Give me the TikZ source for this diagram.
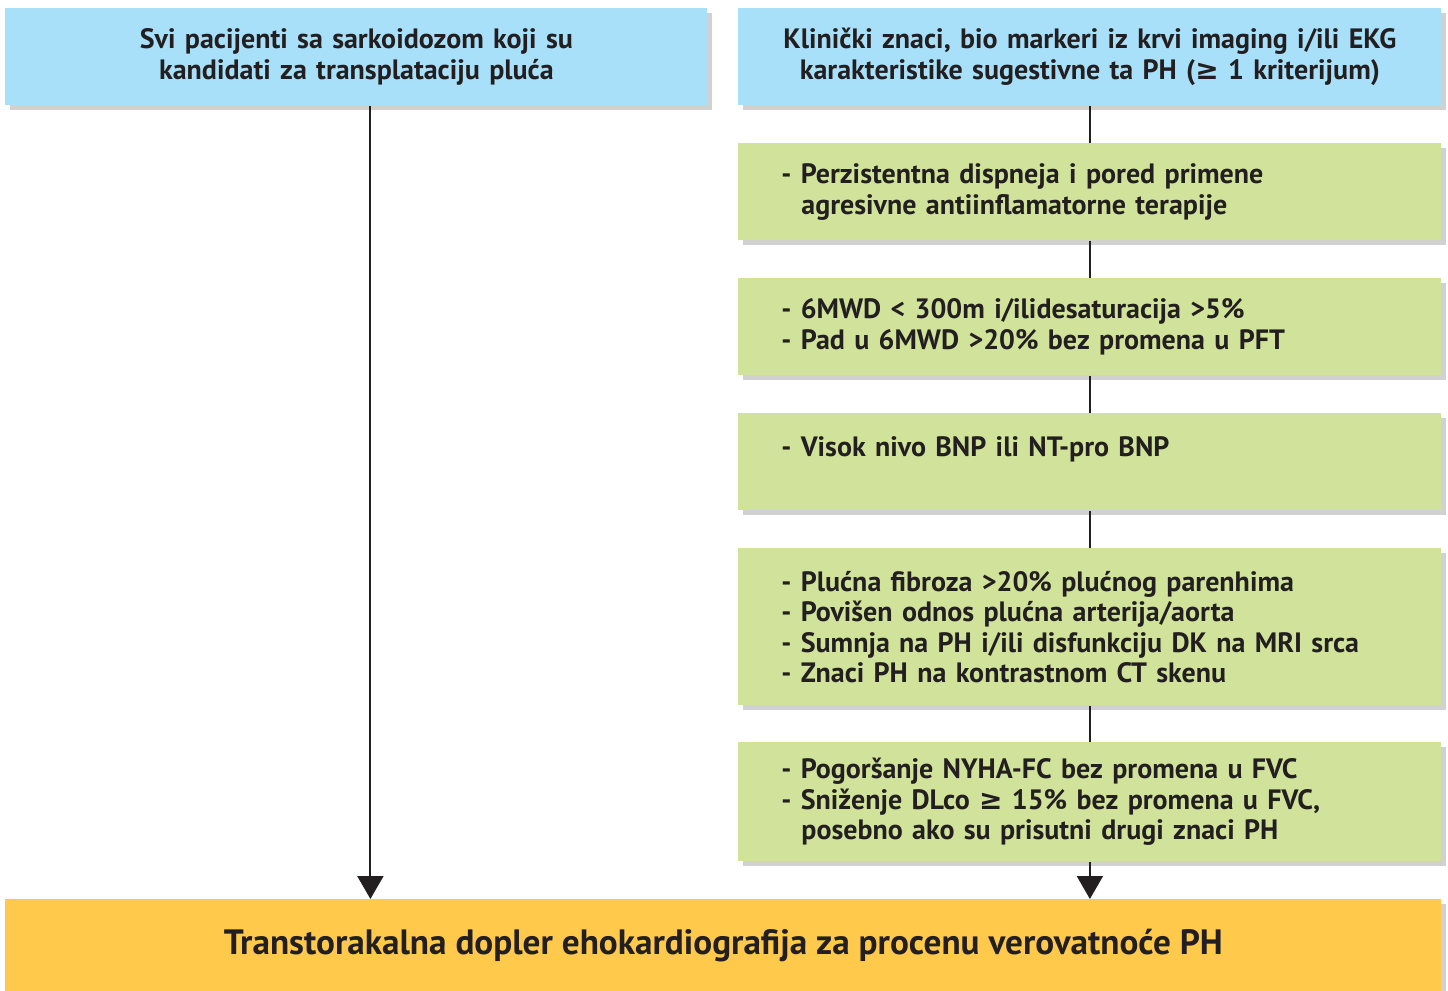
\documentclass[tikz,border=0pt]{standalone}
\usepackage{fontspec}
\setmainfont{PT Sans}
\newfontfamily\symf{DejaVu Sans}
\usetikzlibrary{arrows.meta,shadows}
\definecolor{boxblue}{RGB}{168,223,249}
\definecolor{boxgreen}{RGB}{209,227,155}
\definecolor{boxorange}{RGB}{255,201,76}
\definecolor{ink}{RGB}{35,31,32}
\tikzset{
  base/.style={rectangle, inner sep=0pt, anchor=north west, text=ink,
    drop shadow={shadow xshift=2.5pt, shadow yshift=-2.5pt, opacity=0.18, fill=black}},
  bluebox/.style={base, fill=boxblue, text width=340pt, inner xsep=5.5pt, minimum height=48.5pt, align=center},
  greenbox/.style={base, fill=boxgreen, text width=308.5pt, inner xsep=21.5pt, align=left},
  orangebox/.style={base, fill=boxorange, minimum width=718pt, minimum height=46pt, align=center,
    font=\bfseries\fontsize{17.6}{20}\selectfont},
  conn/.style={draw=ink, line width=1.2pt},
  arr/.style={draw=ink, line width=1pt, -{Triangle[width=13pt,length=11.5pt]}},
}
\newcommand{\ind}{\hspace*{10pt}}
\newcommand{\gee}{{\symf\bfseries ≥}}
\begin{document}
\begin{tikzpicture}[x=0.5pt,y=-0.5pt, font=\bfseries\fontsize{14}{15.25}\selectfont]
\useasboundingbox (0,0) rectangle (1448,991);
\node[bluebox] (t1) at (5,8) {Svi pacijenti sa sarkoidozom koji su\\kandidati za transplataciju pluća};
\node[bluebox, text width=340.5pt] (t2) at (738,8) {Klinički znaci, bio markeri iz krvi imaging i/ili EKG\\karakteristike sugestivne ta PH (\gee{} 1 kriterijum)};
\node[greenbox, minimum height=48.5pt] (g1) at (738,143) {- Perzistentna dispneja i pored primene\\\ind agresivne antiinflamatorne terapije};
\node[greenbox, minimum height=48.5pt] (g2) at (738,278) {- 6MWD < 300m i/ilidesaturacija >5\%\\- Pad u 6MWD >20\% bez promena u PFT};
\node[greenbox, minimum height=48.5pt] (g3) at (738,413) {- Visok nivo BNP ili NT-pro BNP\\\mbox{}};
\node[greenbox, minimum height=78.5pt] (g4) at (738,548) {- Plućna fibroza >20\% plućnog parenhima\\- Povišen odnos plućna arterija/aorta\\- Sumnja na PH i/ili disfunkciju DK na MRI srca\\- Znaci PH na kontrastnom CT skenu};
\node[greenbox, minimum height=59.5pt] (g5) at (738,742) {- Pogoršanje NYHA-FC bez promena u FVC\\- Sniženje DLco \gee{} 15\% bez promena u FVC,\\\ind posebno ako su prisutni drugi znaci PH};
\node[orangebox] (o) at (5,899) {\raisebox{-2pt}{Transtorakalna dopler ehokardiografija za procenu verovatnoće PH}};
\draw[conn] (t2.south) -- (g1.north);
\draw[conn] (g1.south) -- (g2.north);
\draw[conn] (g2.south) -- (g3.north);
\draw[conn] (g3.south) -- (g4.north);
\draw[conn] (g4.south) -- (g5.north);
\draw[arr] (g5.south) -- (g5.south |- o.north);
\draw[arr] ([xshift=7pt]t1.south) -- ([xshift=7pt]t1.south |- o.north);
\end{tikzpicture}
\end{document}
